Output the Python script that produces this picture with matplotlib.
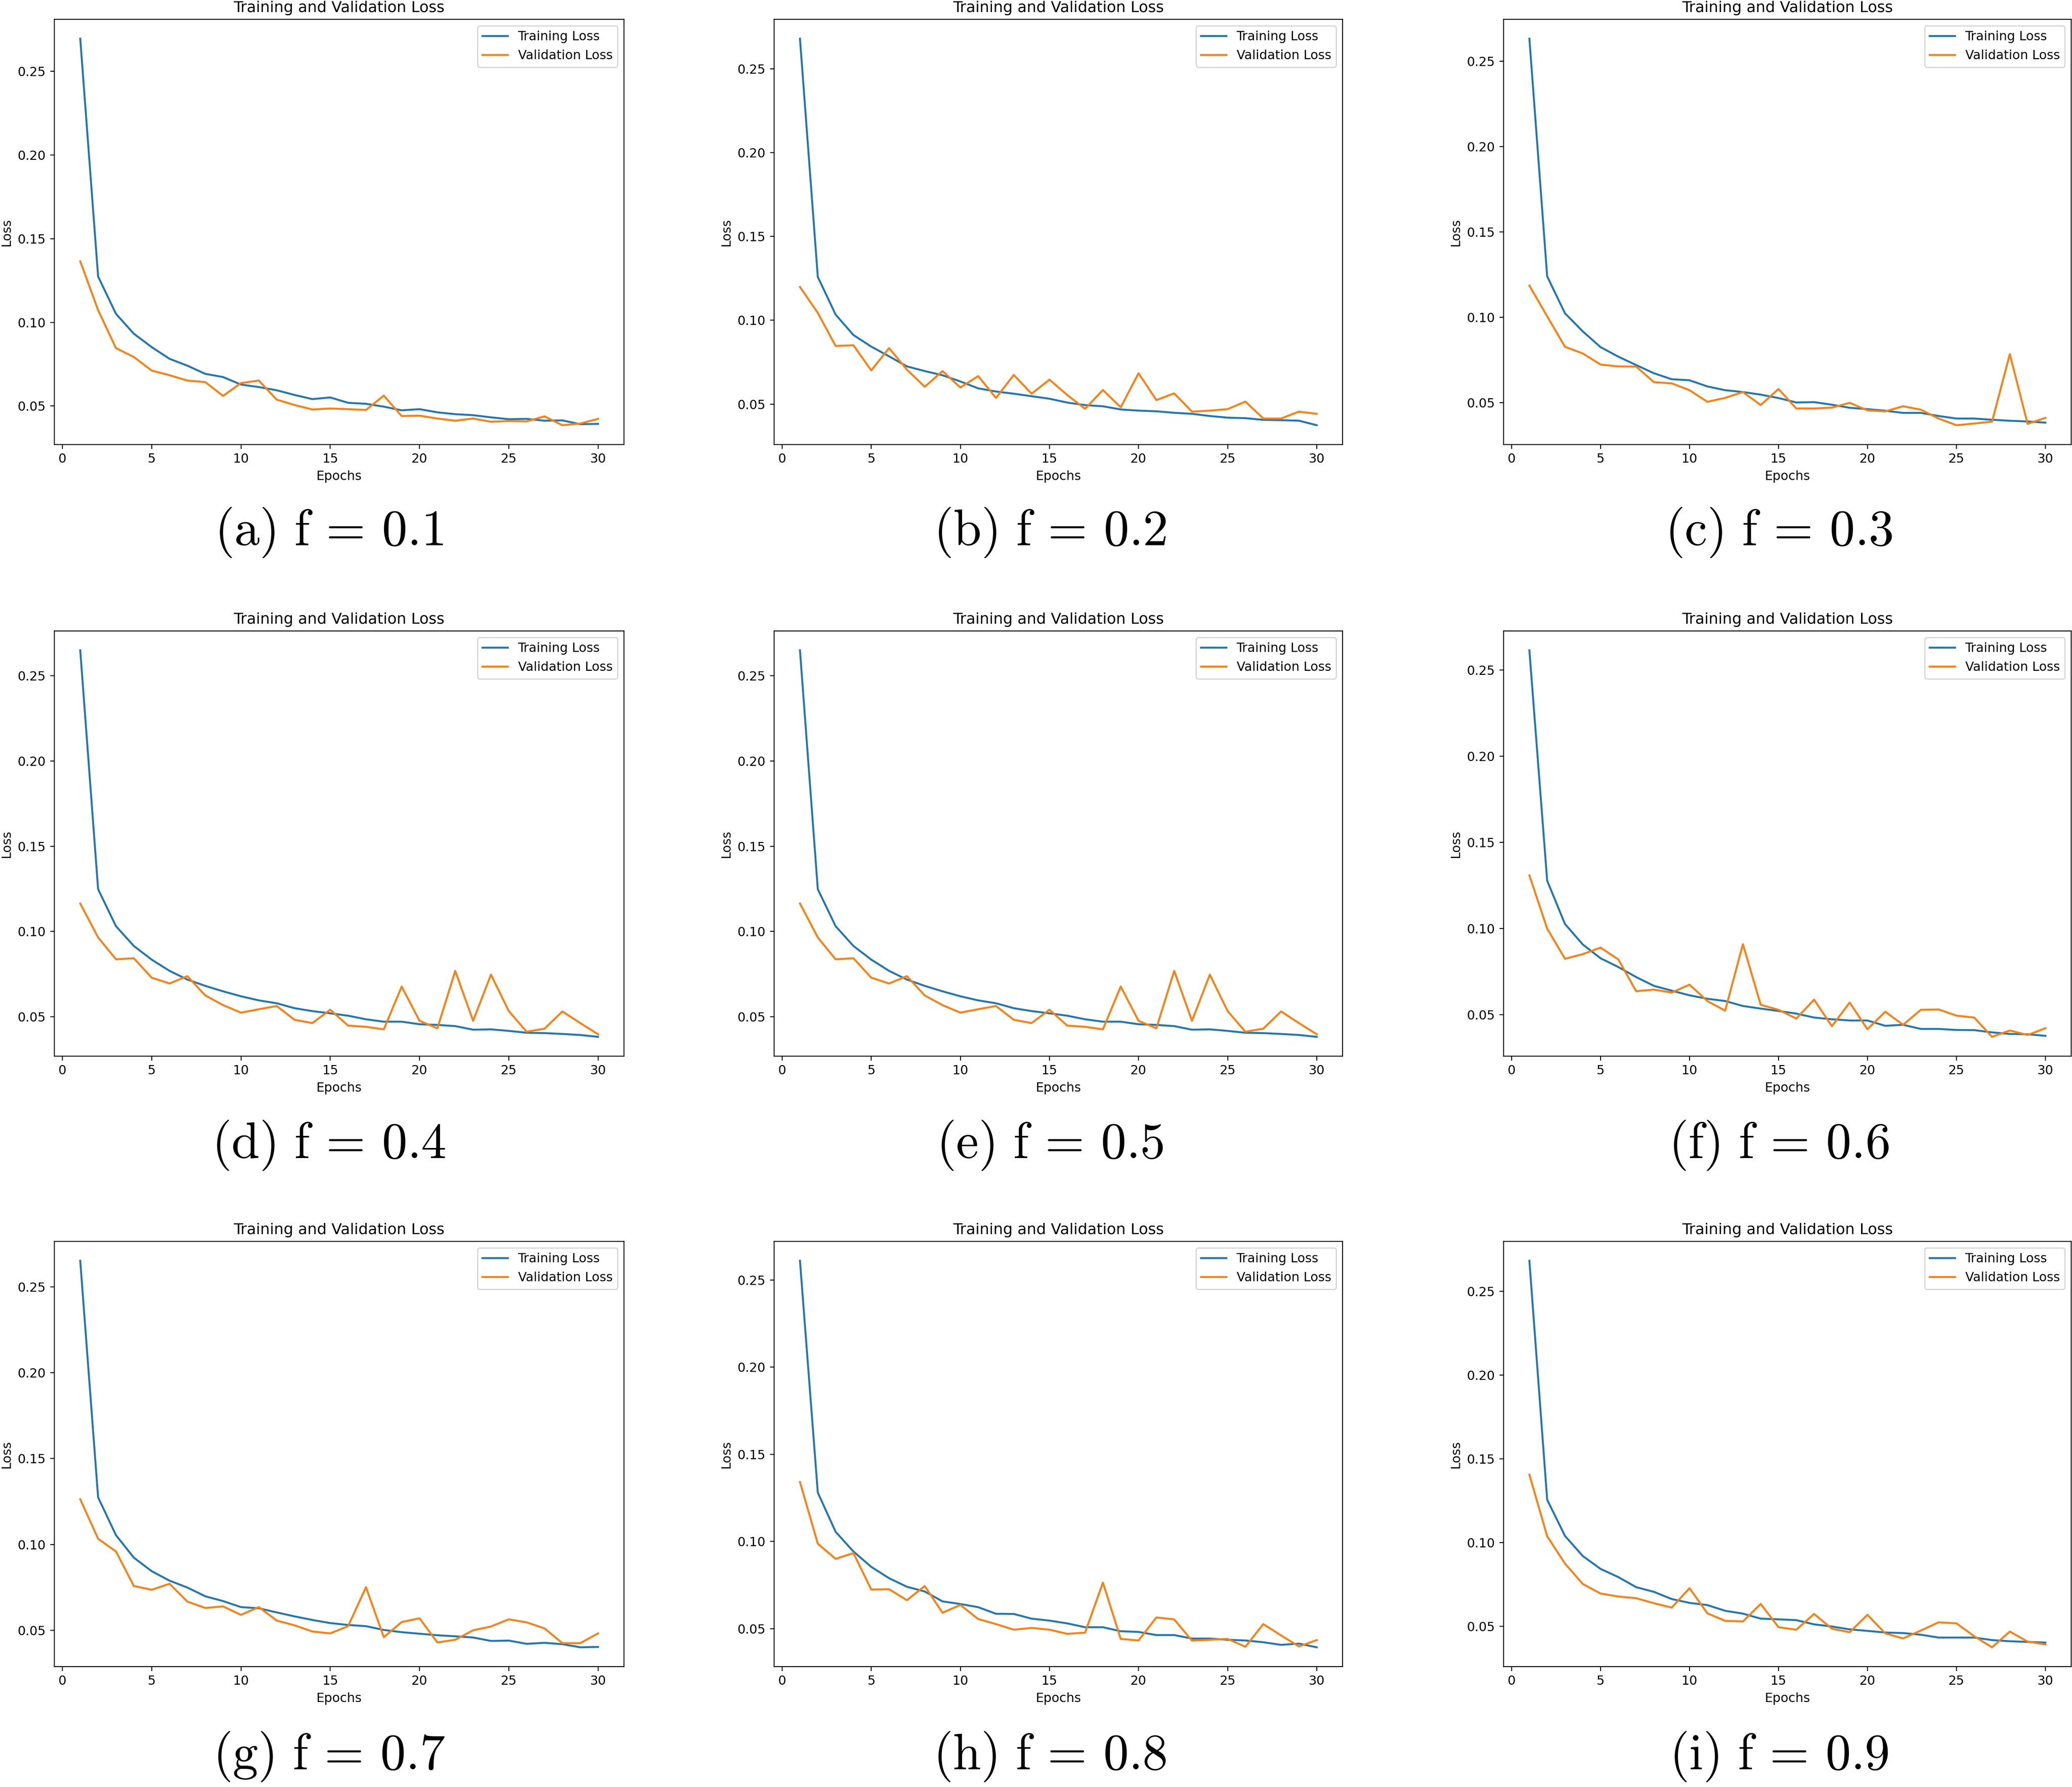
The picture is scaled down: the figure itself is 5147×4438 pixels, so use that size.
import matplotlib.pyplot as plt
import numpy as np

plt.rcParams['mathtext.fontset'] = 'cm'
plt.rcParams['font.size'] = 10.5
plt.rcParams['lines.linewidth'] = 1.6

epochs = np.arange(1, 31)

# training / validation loss per run
train_a = [0.2696, 0.1274, 0.1051, 0.0932, 0.0852, 0.0782, 0.0741, 0.0692, 0.0673, 0.0628,
           0.0613, 0.0594, 0.0566, 0.0541, 0.0551, 0.0519, 0.0513, 0.0496, 0.0474, 0.0481,
           0.0462, 0.0451, 0.0445, 0.0432, 0.0421, 0.0423, 0.0412, 0.0414, 0.0391, 0.0393]
val_a = [0.1365, 0.1073, 0.0846, 0.0793, 0.0712, 0.0684, 0.0652, 0.0643, 0.0560, 0.0637,
         0.0652, 0.0538, 0.0506, 0.0479, 0.0485, 0.0481, 0.0476, 0.0562, 0.0440, 0.0442,
         0.0425, 0.0412, 0.0425, 0.0406, 0.0410, 0.0408, 0.0438, 0.0385, 0.0395, 0.0423]

train_b = [0.2680, 0.1259, 0.1034, 0.0912, 0.0843, 0.0785, 0.0725, 0.0697, 0.0672, 0.0635,
           0.0594, 0.0575, 0.0562, 0.0547, 0.0532, 0.0509, 0.0494, 0.0487, 0.0468, 0.0461,
           0.0457, 0.0448, 0.0442, 0.0429, 0.0419, 0.0416, 0.0406, 0.0404, 0.0401, 0.0374]
val_b = [0.1199, 0.1044, 0.0847, 0.0851, 0.0701, 0.0834, 0.0706, 0.0603, 0.0697, 0.0599,
         0.0667, 0.0537, 0.0674, 0.0562, 0.0646, 0.0554, 0.0472, 0.0584, 0.0481, 0.0684,
         0.0524, 0.0564, 0.0455, 0.0461, 0.0470, 0.0515, 0.0414, 0.0414, 0.0455, 0.0442]

train_c = [0.2631, 0.1240, 0.1024, 0.0918, 0.0826, 0.0770, 0.0721, 0.0673, 0.0638, 0.0632,
           0.0596, 0.0574, 0.0563, 0.0548, 0.0528, 0.0502, 0.0504, 0.0489, 0.0471, 0.0463,
           0.0454, 0.0441, 0.0441, 0.0423, 0.0408, 0.0408, 0.0401, 0.0395, 0.0391, 0.0384]
val_c = [0.1186, 0.1006, 0.0828, 0.0789, 0.0724, 0.0713, 0.0712, 0.0621, 0.0614, 0.0574,
         0.0506, 0.0529, 0.0563, 0.0487, 0.0581, 0.0467, 0.0467, 0.0472, 0.0500, 0.0456,
         0.0450, 0.0480, 0.0460, 0.0408, 0.0369, 0.0379, 0.0390, 0.0785, 0.0377, 0.0412]

train_d = [0.2649, 0.1248, 0.1031, 0.0915, 0.0835, 0.0769, 0.0718, 0.0681, 0.0649, 0.0620,
           0.0596, 0.0579, 0.0550, 0.0533, 0.0520, 0.0506, 0.0485, 0.0471, 0.0471, 0.0456,
           0.0452, 0.0445, 0.0424, 0.0426, 0.0417, 0.0406, 0.0404, 0.0399, 0.0393, 0.0382]
val_d = [0.1164, 0.0965, 0.0837, 0.0843, 0.0729, 0.0695, 0.0738, 0.0625, 0.0568, 0.0524,
         0.0544, 0.0563, 0.0482, 0.0463, 0.0541, 0.0448, 0.0441, 0.0426, 0.0677, 0.0476,
         0.0432, 0.0769, 0.0476, 0.0747, 0.0533, 0.0412, 0.0430, 0.0531, 0.0463, 0.0397]

# (e) looks identical to (d)
train_e = [0.2649, 0.1248, 0.1031, 0.0915, 0.0835, 0.0769, 0.0718, 0.0681, 0.0649, 0.0620,
           0.0596, 0.0579, 0.0550, 0.0533, 0.0520, 0.0506, 0.0485, 0.0471, 0.0471, 0.0456,
           0.0452, 0.0445, 0.0424, 0.0426, 0.0417, 0.0406, 0.0404, 0.0399, 0.0393, 0.0382]
val_e = [0.1164, 0.0965, 0.0837, 0.0843, 0.0729, 0.0695, 0.0738, 0.0625, 0.0568, 0.0524,
         0.0544, 0.0563, 0.0482, 0.0463, 0.0541, 0.0448, 0.0441, 0.0426, 0.0677, 0.0476,
         0.0432, 0.0769, 0.0476, 0.0747, 0.0533, 0.0412, 0.0430, 0.0531, 0.0463, 0.0397]

train_f = [0.2615, 0.1278, 0.1027, 0.0908, 0.0828, 0.0777, 0.0719, 0.0668, 0.0640, 0.0613,
           0.0593, 0.0580, 0.0551, 0.0536, 0.0522, 0.0507, 0.0484, 0.0474, 0.0467, 0.0467,
           0.0436, 0.0442, 0.0418, 0.0418, 0.0412, 0.0411, 0.0398, 0.0389, 0.0387, 0.0378]
val_f = [0.1309, 0.1000, 0.0825, 0.0852, 0.0890, 0.0821, 0.0637, 0.0646, 0.0629, 0.0675,
         0.0580, 0.0524, 0.0910, 0.0558, 0.0529, 0.0478, 0.0588, 0.0434, 0.0571, 0.0416,
         0.0518, 0.0442, 0.0529, 0.0531, 0.0495, 0.0484, 0.0372, 0.0409, 0.0383, 0.0422]

train_g = [0.2652, 0.1274, 0.1054, 0.0923, 0.0844, 0.0789, 0.0749, 0.0698, 0.0670, 0.0635,
           0.0628, 0.0604, 0.0581, 0.0560, 0.0542, 0.0531, 0.0524, 0.0502, 0.0489, 0.0480,
           0.0471, 0.0465, 0.0458, 0.0438, 0.0440, 0.0421, 0.0427, 0.0419, 0.0401, 0.0403]
val_g = [0.1263, 0.1033, 0.0959, 0.0758, 0.0736, 0.0771, 0.0667, 0.0630, 0.0639, 0.0590,
         0.0635, 0.0557, 0.0529, 0.0493, 0.0482, 0.0524, 0.0751, 0.0460, 0.0548, 0.0570,
         0.0429, 0.0445, 0.0500, 0.0522, 0.0564, 0.0546, 0.0511, 0.0425, 0.0425, 0.0482]

train_h = [0.2610, 0.1281, 0.1056, 0.0943, 0.0855, 0.0790, 0.0741, 0.0714, 0.0657, 0.0642,
           0.0624, 0.0586, 0.0585, 0.0558, 0.0547, 0.0531, 0.0509, 0.0509, 0.0486, 0.0482,
           0.0464, 0.0464, 0.0444, 0.0444, 0.0437, 0.0433, 0.0423, 0.0408, 0.0415, 0.0394]
val_h = [0.1341, 0.0988, 0.0901, 0.0934, 0.0725, 0.0727, 0.0664, 0.0745, 0.0592, 0.0637,
         0.0556, 0.0527, 0.0495, 0.0505, 0.0495, 0.0471, 0.0478, 0.0765, 0.0442, 0.0433,
         0.0565, 0.0554, 0.0432, 0.0437, 0.0442, 0.0397, 0.0527, 0.0462, 0.0399, 0.0435]

train_i = [0.2682, 0.1255, 0.1039, 0.0919, 0.0842, 0.0793, 0.0733, 0.0705, 0.0662, 0.0639,
           0.0626, 0.0592, 0.0575, 0.0545, 0.0541, 0.0536, 0.0511, 0.0498, 0.0481, 0.0472,
           0.0462, 0.0459, 0.0449, 0.0432, 0.0432, 0.0432, 0.0417, 0.0410, 0.0406, 0.0402]
val_i = [0.1405, 0.1037, 0.0874, 0.0752, 0.0695, 0.0677, 0.0667, 0.0637, 0.0611, 0.0727,
         0.0577, 0.0532, 0.0528, 0.0633, 0.0494, 0.0479, 0.0573, 0.0485, 0.0464, 0.0568,
         0.0457, 0.0427, 0.0474, 0.0523, 0.0517, 0.0440, 0.0374, 0.0468, 0.0408, 0.0391]

captions = ['(a)', '(b)', '(c)', '(d)', '(e)', '(f)', '(g)', '(h)', '(i)']
f_values = ['0.1', '0.2', '0.3', '0.4', '0.5', '0.6', '0.7', '0.8', '0.9']

train_all = [train_a, train_b, train_c, train_d, train_e, train_f, train_g, train_h, train_i]
val_all = [val_a, val_b, val_c, val_d, val_e, val_f, val_g, val_h, val_i]

W, H = 5147, 4438
DPI = 216
fig = plt.figure(figsize=(W / DPI, H / DPI), dpi=DPI)

# axes boxes in pixels (left, top, width, height)
col_left = [135, 1923, 3735]
col_width = [1415, 1412, 1410]
row_top = [48, 1567, 3083]
ax_h = 1056
cap_x = [817, 2608, 4419]
cap_y = [1322, 2844, 4362]

for k in range(9):
    r, c = divmod(k, 3)
    left = col_left[c] / W
    bottom = 1 - (row_top[r] + ax_h) / H
    ax = fig.add_axes([left, bottom, col_width[c] / W, ax_h / H])
    ax.plot(epochs, train_all[k], label='Training Loss')
    ax.plot(epochs, val_all[k], label='Validation Loss')
    ax.set_title('Training and Validation Loss')
    ax.set_xlabel('Epochs')
    ax.set_ylabel('Loss')
    ax.legend(loc='upper right')

    # subfigure caption
    fig.text(cap_x[c] / W, 1 - cap_y[r] / H,
             r'$\mathrm{' + captions[k] + r'\ f\,=\,' + f_values[k] + '}$',
             ha='center', va='center', fontsize=42)

fig.savefig('out.png', dpi=DPI)
